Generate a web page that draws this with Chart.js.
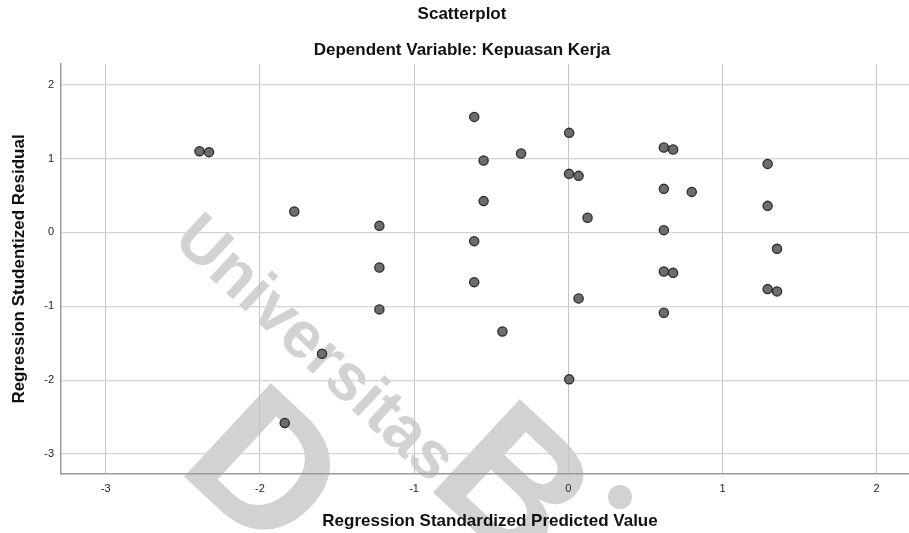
<!DOCTYPE html>
<html><head><meta charset="utf-8">
<script src="https://cdn.jsdelivr.net/npm/chart.js@4.4.1/dist/chart.umd.min.js"></script>
<style>html,body{margin:0;padding:0;background:#fff;overflow:hidden;} canvas{display:block;}</style>
</head><body>
<canvas id="c" width="909" height="533"></canvas>
<script>
// Data
const predictedValues = [-2.392,-2.330,-1.777,-1.225,-1.225,-1.225,-1.597,-1.839,
  -0.610,0.006,-0.306,-0.549,0.005,0.067,-0.549,0.125,-0.610,-0.610,0.067,-0.427,0.006,
  0.620,0.680,0.620,0.620,0.620,0.680,0.620,0.801,1.293,1.293,1.354,1.293,1.354];
const studentizedResiduals = [1.100,1.087,0.284,0.089,-0.474,-1.042,-1.643,-2.580,
  1.564,1.348,1.069,0.974,0.793,0.766,0.424,0.198,-0.118,-0.673,-0.893,-1.340,-1.989,
  1.150,1.123,0.590,0.031,-0.528,-0.547,-1.088,0.549,0.928,0.360,-0.222,-0.767,-0.798];
const xTickValues = [-3,-2,-1,0,1,2];
const yTickValues = [-3,-2,-1,0,1,2];
const chartTitle = 'Scatterplot';
const chartSubtitle = 'Dependent Variable: Kepuasan Kerja';
const xAxisTitle = 'Regression Standardized Predicted Value';
const yAxisTitle = 'Regression Studentized Residual';
const watermarkText = 'Universitas';
const watermarkLetters = ['D','B'];

const points = predictedValues.map((x,i)=>({x:x, y:studentizedResiduals[i]}));
const FONT = '"Liberation Sans", Arial, sans-serif';

const bgPlugin = {
  id:'bgwm',
  beforeDraw(chart){
    const ctx = chart.ctx;
    ctx.save();
    ctx.fillStyle = '#ffffff';
    ctx.fillRect(0,0,chart.width,chart.height);
    ctx.fillStyle = '#d2d2d2';
    const rot = 43*Math.PI/180;
    ctx.save();
    ctx.translate(314,350); ctx.rotate(rot);
    ctx.font = 'bold 66px ' + FONT;
    ctx.textAlign='center'; ctx.textBaseline='middle';
    ctx.fillText(watermarkText,0,0);
    ctx.restore();
    const origins = [[175,468],[424,484]];
    watermarkLetters.forEach((l,i)=>{
      ctx.save();
      ctx.translate(origins[i][0],origins[i][1]); ctx.rotate(rot);
      ctx.font = 'bold 185px ' + FONT;
      ctx.textAlign='left'; ctx.textBaseline='alphabetic';
      ctx.fillText(l,0,0);
      ctx.restore();
    });
    ctx.beginPath(); ctx.arc(620,497,12,0,Math.PI*2); ctx.fill();
    ctx.restore();
  }
};

const titlePlugin = {
  id:'titles',
  afterDraw(chart){
    const ctx = chart.ctx;
    ctx.save();
    ctx.fillStyle = '#111';
    ctx.font = 'bold 17px ' + FONT;
    ctx.textAlign = 'center'; ctx.textBaseline='middle';
    ctx.fillText(chartTitle, 462, 14);
    ctx.fillText(chartSubtitle, 462, 50);
    ctx.fillText(xAxisTitle, 490, 521);
    ctx.restore();
  }
};

new Chart(document.getElementById('c'), {
  type:'scatter',
  data:{datasets:[{
    data: points,
    pointRadius:4.6,
    pointHoverRadius:4.6,
    backgroundColor:'#6d6d6d',
    borderColor:'#2b2b2b',
    borderWidth:1.3
  }]},
  options:{
    responsive:false,
    animation:false,
    events:[],
    layout:{autoPadding:false, padding:{top:64,left:0,right:0,bottom:0}},
    plugins:{legend:{display:false}, tooltip:{enabled:false}, title:{display:false}},
    scales:{
      x:{
        type:'linear', min:-3.29, max:2.21,
        afterBuildTicks(s){ s.ticks = xTickValues.map(v=>({value:v})); },
        afterFit(s){ s.height = 59; s.paddingLeft = 0; s.paddingRight = 0; },
        grid:{color:'#c4c4c4', lineWidth:1, drawTicks:false},
        border:{display:true, color:'#9a9a9a', width:1.5},
        ticks:{color:'#222', font:{size:11, family:FONT}, padding:8, maxRotation:0,
               callback:(v)=>String(v)},
        title:{display:false, text:xAxisTitle}
      },
      y:{
        type:'linear', min:-3.27, max:2.28,
        afterBuildTicks(s){ s.ticks = yTickValues.map(v=>({value:v})); },
        afterFit(s){ s.width = 61; s.paddingTop = 0; s.paddingBottom = 0; },
        grid:{color:'#d4d4d4', lineWidth:1.3, drawTicks:false},
        border:{display:true, color:'#9a9a9a', width:1.5},
        ticks:{color:'#222', font:{size:11, family:FONT}, padding:7,
               callback:(v)=>String(v)},
        title:{display:true, text:yAxisTitle, color:'#111',
               font:{size:17, weight:'bold', family:FONT}, padding:{top:9,bottom:0}}
      }
    }
  },
  plugins:[bgPlugin, titlePlugin]
});
</script>
</body></html>
